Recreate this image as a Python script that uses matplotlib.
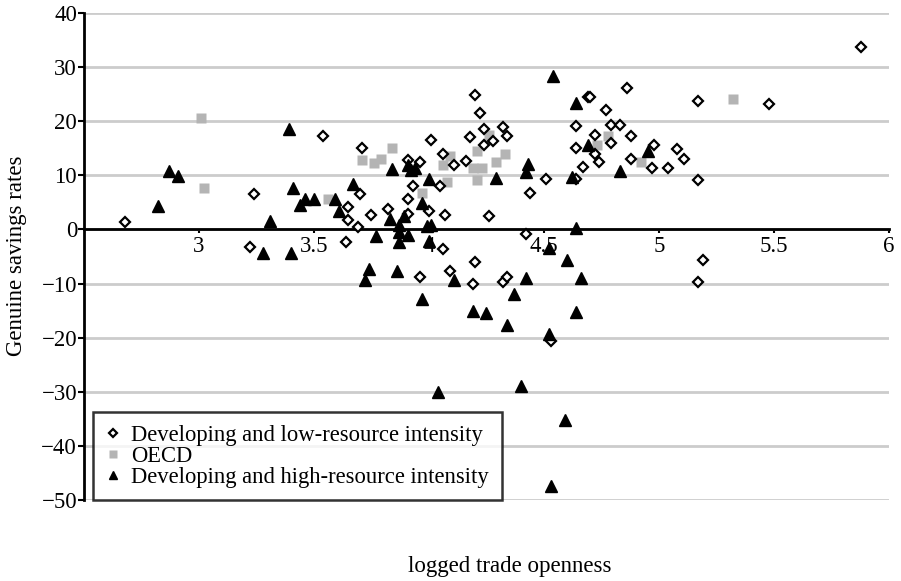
import matplotlib
matplotlib.use("Agg")
import matplotlib.pyplot as plt

# Developing and low-resource intensity (logged trade openness, genuine savings rate)
low_x = [2.68, 3.22, 3.24, 3.54, 3.64, 3.65, 3.65, 3.69, 3.70, 3.71, 3.75, 3.82,
         3.91, 3.91, 3.93, 3.91, 3.96, 3.96, 4.00, 4.01, 4.05, 4.06, 4.06, 4.07,
         4.09, 4.11, 4.16, 4.18, 4.19, 4.20, 4.20, 4.22, 4.24, 4.24, 4.26, 4.28,
         4.32, 4.32, 4.34, 4.34, 4.42, 4.44, 4.51, 4.53, 4.64, 4.64, 4.64, 4.67,
         4.69, 4.70, 4.72, 4.72, 4.74, 4.77, 4.79, 4.79, 4.83, 4.86, 4.88, 4.88,
         4.97, 4.98, 5.04, 5.08, 5.11, 5.17, 5.17, 5.17, 5.19, 5.48, 5.88]
low_y = [1.4, -3.2, 6.5, 17.2, -2.4, 4.1, 1.7, 0.4, 6.5, 15.0, 2.6, 3.7,
         2.8, 5.7, 8.1, 12.8, 12.5, -8.8, 3.5, 16.5, 8.0, 13.9, -3.7, 2.6,
         -7.6, 11.9, 12.6, 17.0, -10.0, 24.8, -6.1, 21.5, 18.5, 15.7, 2.5, 16.3,
         18.9, -9.8, 17.2, -8.8, -0.8, 6.7, 9.4, -20.7, 19.1, 15.0, 9.4, 11.6,
         24.5, 24.4, 17.4, 13.9, 12.5, 22.1, 19.3, 15.9, 19.3, 26.1, 17.3, 13.0,
         11.4, 15.6, 11.4, 14.9, 13.0, 23.8, 9.1, -9.7, -5.7, 23.1, 33.8]

# OECD
oecd_x = [3.01, 3.02, 3.56, 3.71, 3.76, 3.79, 3.84, 3.97, 4.06, 4.09, 4.08,
          4.19, 4.23, 4.21, 4.26, 4.29, 4.33, 4.21, 4.73, 4.78, 4.92, 5.32]
oecd_y = [20.6, 7.6, 5.7, 12.8, 12.3, 13.1, 15.0, 6.7, 11.9, 13.6, 8.8,
          11.4, 11.4, 14.5, 17.4, 12.5, 13.9, 9.1, 15.7, 17.3, 12.5, 24.1]

# Developing and high-resource intensity
high_x = [2.82, 2.87, 2.91, 3.28, 3.31, 3.39, 3.40, 3.41, 3.44, 3.46, 3.50,
          3.59, 3.61, 3.67, 3.74, 3.72, 3.77, 3.84, 3.83, 3.86, 3.87, 3.89,
          3.87, 3.91, 3.87, 3.91, 3.94, 3.92, 3.97, 3.97, 3.99, 4.01, 4.00,
          4.00, 4.04, 4.11, 4.19, 4.25, 4.29, 4.34, 4.37, 4.40, 4.42, 4.43,
          4.42, 4.52, 4.52, 4.53, 4.54, 4.59, 4.60, 4.62, 4.64, 4.64, 4.64,
          4.66, 4.69, 4.83, 4.95]
high_y = [4.4, 10.8, 9.8, -4.3, 1.5, 18.5, -4.3, 7.6, 4.6, 5.7, 5.7,
          5.7, 3.4, 8.4, -7.4, -9.3, -1.2, 11.2, 1.9, -7.7, 0.9, 2.5,
          -0.5, -1.0, -2.3, 11.9, 11.4, 11.0, 4.8, -12.8, 0.6, 0.8, 9.3,
          -2.1, -30.1, -9.3, -15.1, -15.4, 9.6, -17.7, -12.0, -29.0, 10.7, 12.1,
          -8.9, -3.4, -19.3, -47.5, 28.4, -35.2, -5.6, 9.7, 23.3, 0.3, -15.3,
          -9.0, 15.6, 10.8, 14.5]

x_ticks = [3, 3.5, 4, 4.5, 5, 5.5, 6]
x_tick_labels = ["3", "3.5", "4", "4.5", "5", "5.5", "6"]
y_ticks = [-50, -40, -30, -20, -10, 0, 10, 20, 30, 40]

matplotlib.rcParams.update({
    "font.family": "Liberation Serif",
    "font.size": 16.5,
    "axes.unicode_minus": True,
})

fig = plt.figure(figsize=(9.01, 5.81), dpi=100)
ax = fig.add_axes([0.0932, 0.1394, 0.8935, 0.8382])

ax.plot(low_x, low_y, linestyle="none", marker="D", markersize=5.2,
        markerfacecolor="white", markeredgecolor="black", markeredgewidth=1.6,
        label="Developing and low-resource intensity", zorder=4)
ax.plot(oecd_x, oecd_y, linestyle="none", marker="s", markersize=7.5,
        markerfacecolor="#b4b4b4", markeredgecolor="none",
        label="OECD", zorder=3)
ax.plot(high_x, high_y, linestyle="none", marker="^", markersize=8.7,
        color="black", label="Developing and high-resource intensity", zorder=4)

ax.set_xlim(2.5, 6)
ax.set_ylim(-50, 40)
ax.set_xticks(x_ticks)
ax.set_xticklabels(x_tick_labels)
ax.set_yticks(y_ticks)

ax.spines["top"].set_visible(False)
ax.spines["right"].set_visible(False)
ax.spines["bottom"].set_position(("data", 0))
ax.spines["bottom"].set_linewidth(2)
ax.spines["left"].set_linewidth(2)
ax.spines["bottom"].set_zorder(2.6)

ax.yaxis.grid(True, color="#cccccc", linewidth=2)
ax.set_axisbelow(True)
ax.tick_params(axis="y", direction="out", length=4, width=1.5, pad=1)
ax.tick_params(axis="x", direction="out", length=3, width=1.5, pad=2)

fig.text(0.018, 0.56, "Genuine savings rates", rotation=90,
         ha="center", va="center", fontsize=16.5)
fig.text(0.566, 0.025, "logged trade openness", ha="center", va="center",
         fontsize=16.5)

leg = ax.legend(loc="lower left", bbox_to_anchor=(0.011, 0.0), fontsize=16.3,
                frameon=True, fancybox=False, markerscale=0.7,
                labelspacing=0.0, handlelength=0.7, handletextpad=0.45,
                borderpad=0.55, borderaxespad=0.0)
leg.get_frame().set_edgecolor("black")
leg.get_frame().set_linewidth(1.8)
leg.set_zorder(5)

fig.savefig("out.png", dpi=100, facecolor="white")
